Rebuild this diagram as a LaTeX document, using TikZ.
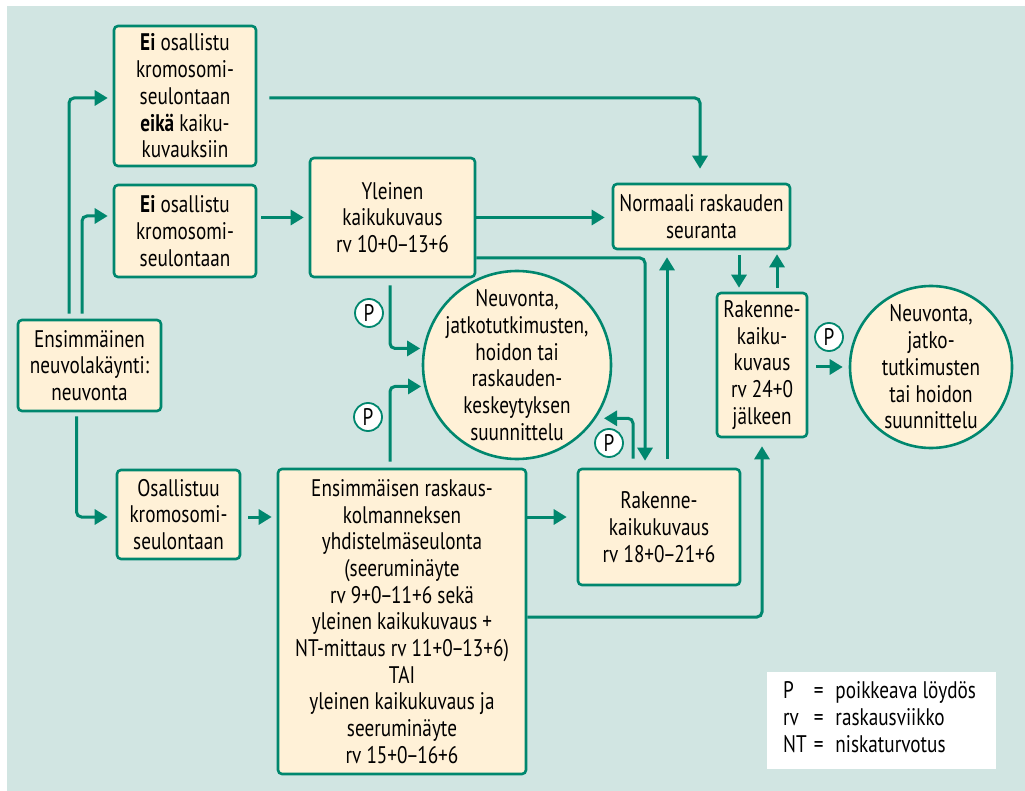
\documentclass[tikz,border=0pt]{standalone}
\usepackage{fontspec}
\setmainfont{PT Sans}[FakeStretch=0.8]
\usetikzlibrary{arrows.meta,calc}
\definecolor{bgc}{HTML}{D1E5E2}
\definecolor{boxc}{HTML}{FFF1D7}
\definecolor{linec}{HTML}{00876E}
\newcommand\myndash{\kern-1.5pt–\kern-1.5pt}
\begin{document}
\begin{tikzpicture}[x=1pt,y=-1pt,
  txt/.style={font=\fontsize{24}{26.7}\selectfont, text=black},
  box/.style={txt, draw=linec, fill=boxc, line width=2.6pt, rounded corners=4pt, align=center, inner sep=0pt},
  circ/.style={draw=linec, fill=boxc, line width=2.6pt, circle, inner sep=0pt},
  ctext/.style={txt, align=center, inner sep=0pt},
  pmark/.style={txt, draw=linec, fill=white, line width=1.8pt, circle, minimum size=28pt, inner sep=0pt},
  arr/.style={draw=linec, line width=3pt, rounded corners=5pt, -{Triangle[length=13pt,width=15pt]}},
]
\useasboundingbox (0,0) rectangle (1025,791);
\fill[white] (0,0) rectangle (1025,791);
\fill[bgc] (7,6) rectangle (1025,791);

\node[box, minimum width=142pt, minimum height=140pt] (A) at (185,96) {\textbf{Ei} osallistu\\kromosomi-\\seulontaan\\\textbf{eikä} kaiku-\\kuvauksiin};
\node[box, minimum width=142pt, minimum height=92pt] (B) at (185,231) {\textbf{Ei} osallistu\\kromosomi-\\seulontaan};
\node[box, minimum width=165pt, minimum height=119pt] (C) at (392.5,217.5) {Yleinen\\kaikukuvaus\\rv 10+0\myndash13+6};
\node[box, minimum width=177pt, minimum height=65pt] (D) at (701.5,216.5) {Normaali raskauden\\seuranta};
\node[box, minimum width=143pt, minimum height=91pt] (E) at (89.5,365.5) {Ensimmäinen\\neuvolakäynti:\\neuvonta};
\node[box, minimum width=123pt, minimum height=89pt] (F) at (178.5,514.5) {Osallistuu\\kromosomi-\\seulontaan};
\node[box, minimum width=248pt, minimum height=305pt] (G) at (402,621.5) {Ensimmäisen raskaus-\\kolmanneksen\\yhdistelmäseulonta\\(seeruminäyte\\rv 9+0\myndash11+6 sekä\\yleinen kaikukuvaus +\\NT-mittaus rv 11+0\myndash13+6)\\TAI\\yleinen kaikukuvaus ja\\seeruminäyte\\rv 15+0\myndash16+6};
\node[box, minimum width=162pt, minimum height=116pt] (H) at (659,527) {Rakenne-\\kaikukuvaus\\rv 18+0\myndash21+6};
\node[box, minimum width=90pt, minimum height=144pt] (I) at (762,365) {Rakenne-\\kaiku-\\kuvaus\\rv 24+0\\jälkeen};
\node[circ, minimum size=188pt, label={[ctext]center:{Neuvonta,\\jatkotutkimusten,\\hoidon tai\\raskauden-\\keskeytyksen\\suunnittelu}}] (J) at (517,365) {};
\node[circ, minimum size=162pt, label={[ctext]center:{Neuvonta,\\jatko-\\tutkimusten\\tai hoidon\\suunnittelu}}] (K) at (931,367) {};

\node[fill=white, minimum width=229pt, minimum height=97pt, inner sep=0pt] (L) at (881.5,720.5) {};
\node[txt, anchor=west, inner sep=0pt] (LT) at (783,720) {\begin{tabular}{@{}l@{\hspace{7pt}}l@{\hspace{12pt}}l@{}}P & = & poikkeava löydös\\ rv & = & raskausviikko\\ NT & = & niskaturvotus\end{tabular}};

\node[pmark] (P1) at (369,313) {P};
\node[pmark] (P2) at (368,417) {P};
\node[pmark] (P3) at (609,443) {P};
\node[pmark] (P4) at (829,337) {P};

\draw[arr, shorten <=5pt, shorten >=5pt] ([xshift=-20.5pt]E.north) |- ([yshift=-2pt]A.west);
\draw[arr, shorten <=5pt, shorten >=5pt] ([xshift=-7.5pt]E.north) |- ([yshift=15pt]B.west);
\draw[arr, shorten <=4pt, shorten >=5pt] (B.east |- C.west) -- (C.west);
\draw[arr, shorten <=12pt, shorten >=14pt] ([yshift=-2pt]A.east) -| ([xshift=-1.5pt]D.north);
\draw[arr, shorten >=7pt] (C.east) -- (C.east -| D.west);
\draw[arr, shorten >=7pt] ([yshift=-40.5pt]C.east) -| ([xshift=-14pt]H.north);
\draw[arr, shorten <=9pt, shorten >=7pt] ([xshift=8pt]H.north) -- ([xshift=8pt]H.north |- D.south);
\draw[arr, shorten <=5pt, shorten >=4pt] ([xshift=-23pt]I.north |- D.south) -- ([xshift=-23pt]I.north);
\draw[arr, shorten <=4pt, shorten >=4pt] ([xshift=15pt]I.north) -- ([xshift=15pt]I.north |- D.south);
\draw[arr, shorten <=8pt, shorten >=6pt] ([yshift=-2pt]I.east) -- ([yshift=-2pt]I.east -| K.west);
\draw[arr, shorten <=7pt, shorten >=3pt] ([xshift=-2.5pt]C.south) |- (J.170);
\draw[arr, shorten <=6pt, shorten >=3pt] ([xshift=-12pt]G.north) |- (J.193);
\draw[arr, shorten <=9pt, shorten >=8pt] ([xshift=-26pt]H.north) |- (J.326);
\draw[arr, shorten <=4pt, shorten >=8pt] ([xshift=-13pt]E.south) |- ([yshift=-2.5pt]F.west);
\draw[arr, shorten <=7pt, shorten >=5pt] ([yshift=-2.5pt]F.east) -- ([yshift=-2.5pt]F.east -| G.west);
\draw[arr, shorten >=10pt] ([yshift=10pt]H.west -| G.east) -- ([yshift=10pt]H.west);
\draw[arr, shorten >=8pt] ([yshift=4.5pt]G.east) -| (I.south);
\end{tikzpicture}
\end{document}
